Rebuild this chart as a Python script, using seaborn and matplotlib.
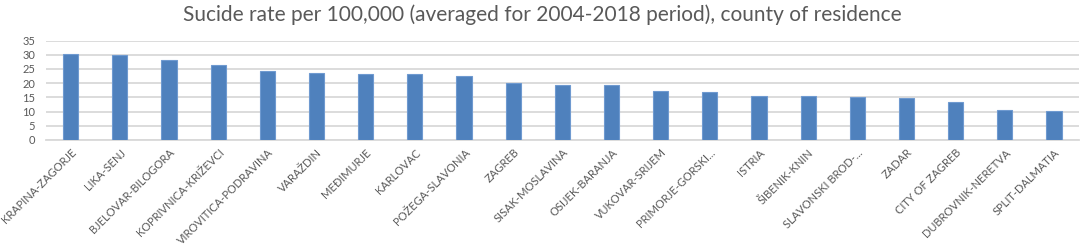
import pandas as pd
import matplotlib
matplotlib.use("Agg")
import matplotlib.pyplot as plt
import seaborn as sns

counties = ["KRAPINA-ZAGORJE", "LIKA-SENJ", "BJELOVAR-BILOGORA", "KOPRIVNICA-KRIŽEVCI",
            "VIROVITICA-PODRAVINA", "VARAŽDIN", "MEĐIMURJE", "KARLOVAC", "POŽEGA-SLAVONIA",
            "ZAGREB", "SISAK-MOSLAVINA", "OSIJEK-BARANJA", "VUKOVAR-SRIJEM",
            "PRIMORJE-GORSKI...", "ISTRIA", "ŠIBENIK-KNIN", "SLAVONSKI BROD-...", "ZADAR",
            "CITY OF ZAGREB", "DUBROVNIK-NERETVA", "SPLIT-DALMATIA"]
rates = [30.2, 29.8, 28.0, 26.5, 24.2, 23.7, 23.3, 23.1, 22.4, 19.9, 19.5,
         19.2, 17.1, 16.8, 15.6, 15.4, 15.0, 14.8, 13.3, 10.7, 10.3]
yticks = [0, 5, 10, 15, 20, 25, 30, 35]

df = pd.DataFrame({"county": counties, "rate": rates})

sns.set_style("white")
plt.rcParams["font.family"] = ["Lato", "DejaVu Sans"]
text_col = "#595959"

fig = plt.figure(figsize=(10.84, 2.49), dpi=100)
ax = fig.add_axes([0.0425, 0.438, 0.9525, 0.399])

sns.barplot(data=df, x="county", y="rate", ax=ax, color="#4f81bd",
            width=0.31, edgecolor="#6f9ad0", linewidth=0.8, saturation=1, zorder=3)

ax.set_ylim(0, 35)
ax.set_yticks(yticks)
ax.set_xlim(-0.5, len(counties) - 0.5)
ax.yaxis.grid(True, color="#d9d9d9", linewidth=1.3, zorder=0)
ax.set_axisbelow(True)
for s in ["top", "right", "left"]:
    ax.spines[s].set_visible(False)
ax.spines["bottom"].set_color("#d9d9d9")
ax.spines["bottom"].set_linewidth(1.3)

ax.tick_params(axis="both", length=0, labelsize=8, colors=text_col, pad=5)
ax.tick_params(axis="y", pad=8)
ax.set_xticks(range(len(counties)))
ax.set_xticklabels(counties, rotation=45, ha="right", rotation_mode="anchor")
ax.set_xlabel("")
ax.set_ylabel("")

fig.text(0.5, 0.94, "Sucide rate per 100,000 (averaged for 2004-2018 period), county of residence",
         ha="center", va="center", fontsize=15, color=text_col)

fig.savefig("out.png", dpi=100)
